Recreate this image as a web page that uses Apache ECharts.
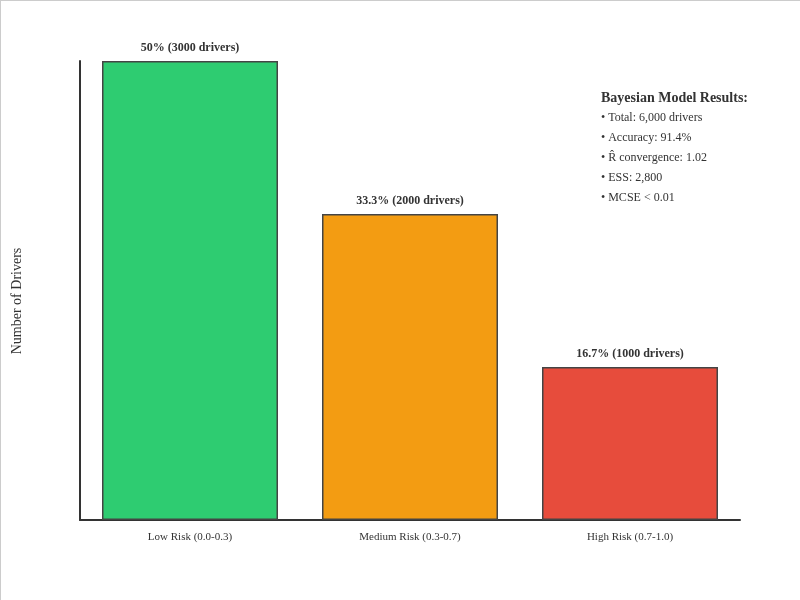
<!DOCTYPE html>
<html>
<head>
<meta charset="utf-8">
<script src="https://cdn.jsdelivr.net/npm/echarts@6/dist/echarts.min.js"></script>
<style>
html,body{margin:0;padding:0;background:#fff;}
#wrap{position:absolute;left:0;top:0;width:800px;height:600px;box-sizing:border-box;border-left:1px solid #ccc;border-top:1px solid #ccc;}
#chart{width:799px;height:599px;}
</style>
</head>
<body>
<div id="wrap"><div id="chart"></div></div>
<script>
const categories = ['Low Risk (0.0-0.3)', 'Medium Risk (0.3-0.7)', 'High Risk (0.7-1.0)'];
const driverCounts = [3000, 2000, 1000];
const percentLabels = ['50%', '33.3%', '16.7%'];
const barColors = ['#2ecc71', '#f39c12', '#e74c3c'];
const resultsTitle = 'Bayesian Model Results:';
const resultsLines = ['• Total: 6,000 drivers', '• Accuracy: 91.4%', '• R\u0302 convergence: 1.02', '• ESS: 2,800', '• MCSE < 0.01'];

const FONT = '"Liberation Serif", "Times New Roman", serif';
const chart = echarts.init(document.getElementById('chart'), null, {renderer: 'canvas'});

const graphics = [
  {type: 'text', left: 600, top: 90, style: {text: resultsTitle, font: 'bold 14px ' + FONT, fill: '#333'}}
];
resultsLines.forEach((t, i) => {
  graphics.push({type: 'text', left: 600, top: 111 + i * 20, style: {text: t, font: '12px ' + FONT, fill: '#333'}});
});
graphics.push({type: 'text', x: 16, y: 300, rotation: Math.PI / 2,
  style: {text: 'Number of Drivers', font: '14px ' + FONT, fill: '#333', align: 'center', verticalAlign: 'middle'}});

chart.setOption({
  animation: false,
  textStyle: {fontFamily: FONT},
  grid: {left: 79, right: 60, top: 60, bottom: 80, containLabel: false},
  xAxis: {
    type: 'category',
    data: categories,
    axisLine: {lineStyle: {color: '#333', width: 2}},
    axisTick: {show: false},
    axisLabel: {color: '#333', fontSize: 11, fontFamily: FONT, margin: 12}
  },
  yAxis: {
    type: 'value',
    min: 0,
    max: 3000,
    axisLine: {show: true, lineStyle: {color: '#333', width: 2}},
    axisTick: {show: false},
    axisLabel: {show: false},
    splitLine: {show: false}
  },
  series: [{
    type: 'bar',
    barWidth: '80%',
    data: driverCounts.map((v, i) => ({
      value: v,
      itemStyle: {color: barColors[i]},
      label: {formatter: percentLabels[i] + ' (' + v + ' drivers)'}
    })),
    itemStyle: {borderColor: '#444', borderWidth: 1.5},
    label: {show: true, position: 'top', distance: 7, color: '#333', fontWeight: 'bold', fontSize: 12, fontFamily: FONT}
  }],
  graphic: graphics
});
</script>
</body>
</html>
